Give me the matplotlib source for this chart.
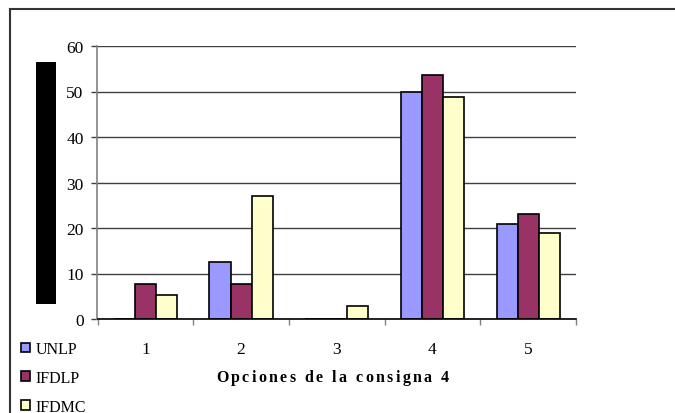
import matplotlib
matplotlib.use("Agg")
import matplotlib.pyplot as plt
import numpy as np
from matplotlib.patches import Rectangle, Patch
from matplotlib.lines import Line2D

categories = ["1", "2", "3", "4", "5"]
unlp = [0, 12.5, 0, 49.8, 20.8]
ifdlp = [7.7, 7.7, 0, 53.7, 23.1]
ifdmc = [5.3, 27.1, 2.9, 48.8, 18.9]
series_names = ["UNLP", "IFDLP", "IFDMC"]
series_colors = ["#9999FF", "#993366", "#FFFFCC"]
y_ticks = [0, 10, 20, 30, 40, 50, 60]
x_title = "Opciones de la consigna 4"

plt.rcParams["font.family"] = ["Liberation Serif", "DejaVu Serif"]

fig = plt.figure(figsize=(6.75, 4.14), dpi=100)
ax = fig.add_axes([97.5 / 675, 94 / 414, 478.5 / 675, 273 / 414])

x = np.arange(len(categories))
w = 0.22
for i, (vals, col, name) in enumerate(zip([unlp, ifdlp, ifdmc], series_colors, series_names)):
    ax.bar(x + (i - 1) * w, vals, width=w, color=col, edgecolor="black", linewidth=1.2, label=name, zorder=3)

ax.set_xlim(-0.5, len(categories) - 0.5)
ax.set_ylim(0, 60)
ax.set_yticks(y_ticks)
ax.set_yticklabels([str(v) for v in y_ticks], fontsize=12.5)
ax.set_xticks(x)
ax.set_xticklabels(categories, fontsize=12.5)
ax.set_xticks(np.arange(len(categories) + 1) - 0.5, minor=True)
ax.tick_params(axis="x", which="major", length=0, pad=16)
ax.tick_params(axis="x", which="minor", length=4, color="#808080", width=1)
ax.tick_params(axis="y", length=4, color="#404040", width=1, pad=6)
ax.grid(axis="y", color="#404040", linewidth=1, zorder=0)
ax.set_axisbelow(True)
for s in ["top", "right"]:
    ax.spines[s].set_visible(False)
ax.spines["left"].set_color("#808080")
ax.spines["left"].set_linewidth(1.2)
ax.spines["bottom"].set_color("black")
ax.spines["bottom"].set_linewidth(1.2)
ax.spines["bottom"].set_zorder(4)

# x title with wide letter spacing, drawn char by char
fig.canvas.draw()
renderer = fig.canvas.get_renderer()
chars = []
total = 0
for ch in x_title:
    t = fig.text(0, 0, ch if ch != " " else "n", fontsize=11.5, fontweight="bold")
    cw = t.get_window_extent(renderer).width
    t.remove()
    if ch == " ":
        cw = cw * 0.5
    chars.append((ch, cw))
    total += cw
gap = (233 - total) / (len(x_title) - 1)
xpos = 216
for ch, cw in chars:
    if ch != " ":
        fig.text(xpos / 675, 1 - 378 / 414, ch, fontsize=11.5, fontweight="bold", va="center", ha="left")
    xpos += cw + gap

# black block where the y title sits
fig.patches.append(Rectangle((36 / 675, 1 - 305 / 414), 20 / 675, 242 / 414, transform=fig.transFigure, facecolor="black", edgecolor="none"))

# outer frame, left and top
fig.lines.append(Line2D([10 / 675, 10 / 675], [0, 1 - 10 / 414], transform=fig.transFigure, color="#333333", linewidth=1.5))
fig.lines.append(Line2D([10 / 675, 1], [1 - 10 / 414, 1 - 10 / 414], transform=fig.transFigure, color="#333333", linewidth=1.5))

handles = [Patch(facecolor=c, edgecolor="black", linewidth=1.2) for c in series_colors]
fig.legend(handles, series_names, loc="upper left", bbox_to_anchor=(13 / 675, 1 - 334 / 414),
           frameon=False, fontsize=11.5, handlelength=0.55, handleheight=0.55, handletextpad=0.35,
           labelspacing=0.8, borderpad=0)

fig.savefig("out.png", dpi=100)
